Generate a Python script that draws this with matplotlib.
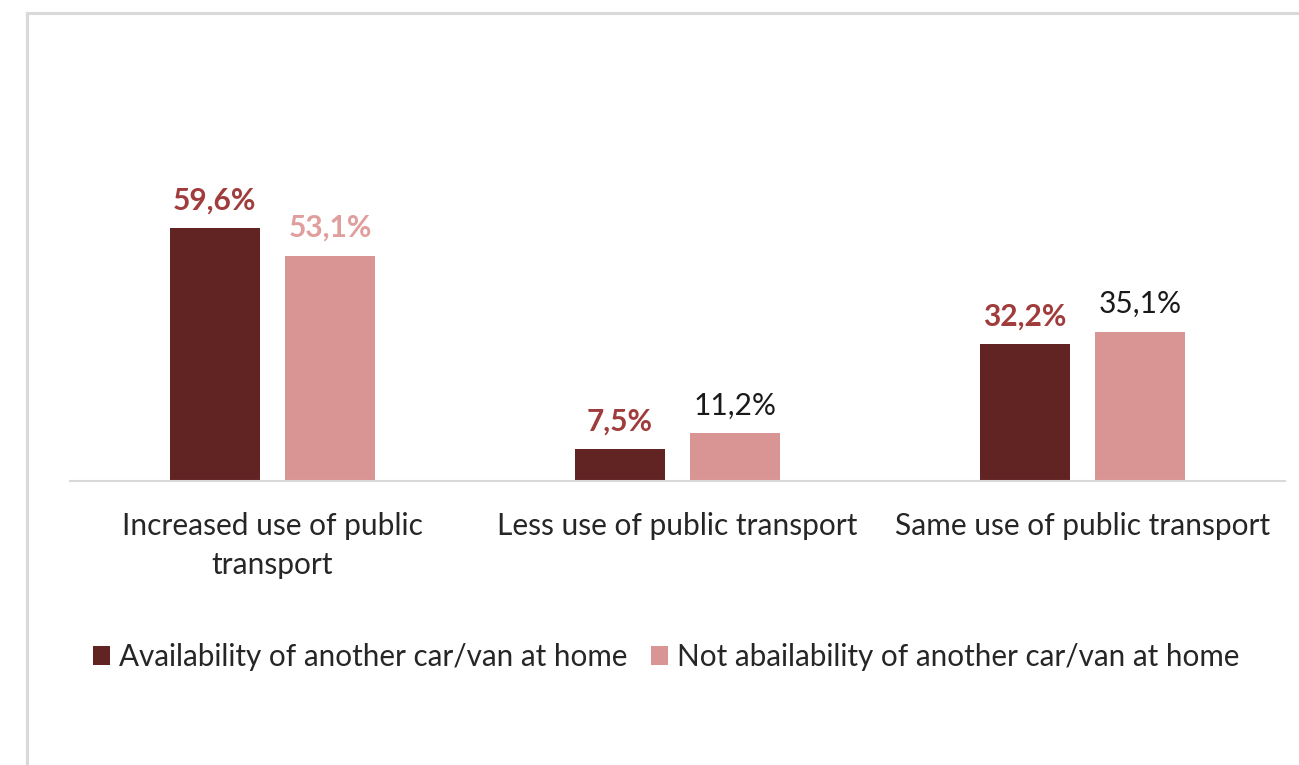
import matplotlib
matplotlib.use("Agg")
import matplotlib.pyplot as plt
from matplotlib.lines import Line2D
import numpy as np

plt.rcParams["font.family"] = ["Lato", "DejaVu Sans"]

categories = ["Increased use of public\ntransport", "Less use of public transport", "Same use of public transport"]
with_car = [59.6, 7.5, 32.2]
without_car = [53.1, 11.2, 35.1]
series_names = ["Availability of another car/van at home", "Not abailability of another car/van at home"]

dark = "#622323"
light = "#d99594"

W, H = 1299, 765
fig = plt.figure(figsize=(W / 100, H / 100), dpi=100)

# grey frame round the chart area (top and left edges)
fig.add_artist(Line2D([27 / W, 1.0], [1 - 13 / H, 1 - 13 / H], color="#d9d9d9", lw=2.2))
fig.add_artist(Line2D([27 / W, 27 / W], [0, 1 - 13 / H], color="#d9d9d9", lw=2.2))

ax = fig.add_axes([70 / W, 284 / H, 1215 / W, 297 / H])
x = np.arange(len(categories))
bw = 0.222
off = 0.143
b1 = ax.bar(x - off, with_car, bw, color=dark)
b2 = ax.bar(x + off, without_car, bw, color=light)

ax.set_xlim(-0.5, 2.5)
ax.set_ylim(0, 70)
for s in ["top", "right", "left"]:
    ax.spines[s].set_visible(False)
ax.spines["bottom"].set_color("#d9d9d9")
ax.spines["bottom"].set_linewidth(1.5)
ax.set_yticks([])
ax.set_xticks(x)
ax.set_xticklabels(categories, fontsize=21.5, color="#262626", linespacing=1.5)
ax.tick_params(axis="x", length=0, pad=22)

# value labels
fs = 21.5
for xi, v in zip(x, with_car):
    ax.annotate(f"{v:.1f}%".replace(".", ","), (xi - off, v), xytext=(0, 10),
                textcoords="offset points", ha="center", va="bottom",
                fontsize=fs, fontweight="bold", color="#a03c3c")
label_styles = [("bold", "#e09e9d"), ("normal", "#1a1a1a"), ("normal", "#1a1a1a")]
for xi, v, (fw, c) in zip(x, without_car, label_styles):
    ax.annotate(f"{v:.1f}%".replace(".", ","), (xi + off, v), xytext=(0, 10),
                textcoords="offset points", ha="center", va="bottom",
                fontsize=fs, fontweight=fw, color=c)

fig.legend([b1, b2], series_names, loc="center", bbox_to_anchor=(666 / W, 1 - 657 / H),
           ncol=2, frameon=False, fontsize=21.3, handlelength=0.58, handleheight=0.58,
           handletextpad=0.3, columnspacing=0.8, labelcolor="#262626")

fig.savefig("out.png", dpi=100, facecolor="white")
